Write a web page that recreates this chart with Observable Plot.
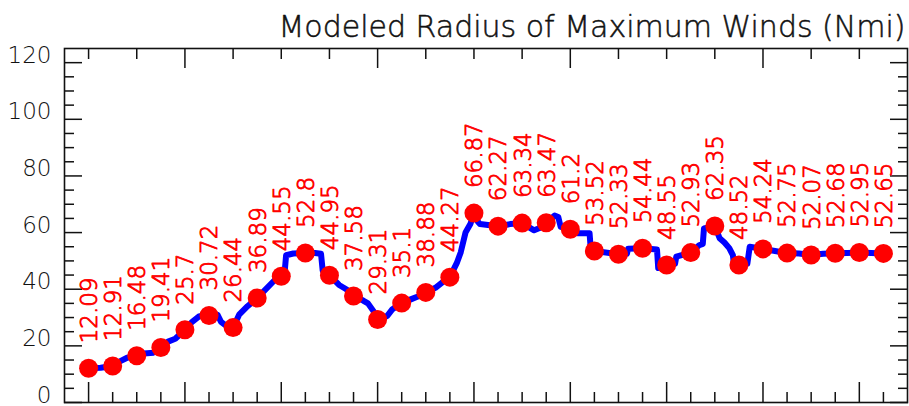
<!DOCTYPE html>
<html>
<head>
<meta charset="utf-8">
<script src="https://cdn.jsdelivr.net/npm/d3@7"></script>
<script src="https://cdn.jsdelivr.net/npm/@observablehq/plot@0.6"></script>
<style>
  html, body { margin: 0; padding: 0; background: #fff; }
  #chart svg { display: block; }
</style>
</head>
<body>
<div id="chart"></div>
<script>
// Values at each labelled time step (index 0..33)
const pointValues = [12.09, 12.91, 16.48, 19.41, 25.7, 30.72, 26.44, 36.89, 44.55, 52.8,
  44.95, 37.58, 29.31, 35.1, 38.88, 44.27, 66.87, 62.27, 63.34, 63.47,
  61.2, 53.52, 52.33, 54.44, 48.55, 52.93, 62.35, 48.52, 54.24, 52.75,
  52.07, 52.68, 52.95, 52.65];

// Blue modeled curve (step index, value)
const lineT = [0, 0.5, 1, 1.3, 1.6, 2, 2.3, 2.7, 3, 3.3, 3.6, 4, 4.3, 4.6, 5, 5.35, 5.5, 5.65, 6,
  6.25, 6.6, 7, 7.3, 7.7, 8, 8.15, 8.2, 8.5, 9, 9.4, 9.65, 9.72, 10, 10.4, 10.7, 11, 11.4, 11.6, 11.85, 12,
  12.4, 12.6, 13, 13.4, 13.7, 14, 14.4, 14.7, 15, 15.3, 15.45, 15.65, 15.85, 16, 16.15, 16.25, 17, 17.5, 18,
  18.5, 18.7, 19, 19.35, 19.5, 19.6, 20, 20.3, 20.8, 20.85, 21, 22, 22.35, 22.4, 23, 23.6, 23.65, 24,
  24.35, 24.4, 25, 25.35, 25.5, 25.55, 26, 26.2, 26.4, 26.6, 26.75, 26.8, 27, 27.35, 27.45, 28,
  28.5, 29, 29.5, 30, 30.5, 31, 31.5, 32, 32.5, 33];
const lineV = [12.09, 12.3, 12.91, 14.5, 15.8, 16.48, 17.3, 17.6, 19.41, 21.5, 22.5, 25.7, 28.5, 30.5, 30.72, 31, 28.5, 27.5, 26.44,
  31, 34, 36.89, 39.5, 43, 44.55, 47, 52, 52.6, 52.8, 52.8, 52.5, 46.5, 44.95, 41.5, 40, 37.58, 36, 35, 32, 29.31,
  30.6, 32.8, 35.1, 36.5, 37.5, 38.88, 40.5, 42.5, 44.27, 49.5, 53, 60, 63, 66.87, 64, 63, 62.27, 63, 63.34,
  60.8, 61.5, 63.47, 66, 65.5, 62, 61.2, 59.8, 59.8, 54, 53.52, 52.33, 52.5, 54.3, 54.44, 54, 47.5, 48.55,
  49, 51.5, 52.93, 55.5, 56, 61.5, 62.35, 58, 56.5, 54.5, 52, 48.5, 48.52, 49, 55, 54.24,
  53.5, 52.75, 52.6, 52.07, 52.5, 52.68, 52.8, 52.95, 52.8, 52.65];

// Axis ticks
const yMajor = [0, 20, 40, 60, 80, 100, 120];
const yMinor = [5, 10, 15, 25, 30, 35, 45, 50, 55, 65, 70, 75, 85, 90, 95, 105, 110, 115];
const xBottomMinor = [1, 2, 3, 5, 6, 7, 9, 10, 11, 13, 14, 15, 17, 18, 19, 21, 22, 23, 25, 26, 27, 29, 30, 31, 33];
const xBottomMajor = [0, 4, 8, 12, 16, 20, 24, 28, 32];
const xTopMinor = [0, 2, 6, 8, 10, 14, 16, 18, 22, 24, 26, 30, 32];
const xTopMajor = [4, 12, 20, 28];

const title = "Modeled Radius of Maximum Winds (Nmi)";

const points = pointValues.map((v, i) => ({t: i, v}));
const line = lineT.map((t, i) => ({t, v: lineV[i]}));

const font = "'DejaVu Sans', 'Liberation Sans', sans-serif";
const ink = "#111111";
const blank = () => "";
const tickOpts = {tickFormat: blank, label: null, stroke: ink, strokeWidth: 1.5};

const chart = Plot.plot({
  width: 909,
  height: 406,
  marginLeft: 64,
  marginRight: 2,
  marginTop: 48,
  marginBottom: 4,
  x: {domain: [-1, 34]},
  y: {domain: [0, 125]},
  style: {fontFamily: font, background: "#fff", overflow: "visible"},
  marks: [
    // y labels
    Plot.axisY(yMajor, {anchor: "left", tickSize: 0, tickPadding: 13, lineAnchor: "bottom", dy: 0, label: null,
      fontSize: 23, fontWeight: 200, fill: ink, stroke: ink, strokeWidth: 0.9}),
    // y ticks left & right (inward)
    Plot.axisY(yMajor, {anchor: "left", tickSize: -18, ...tickOpts}),
    Plot.axisY(yMinor, {anchor: "left", tickSize: -10, ...tickOpts}),
    Plot.axisY(yMajor, {anchor: "right", tickSize: -18, ...tickOpts}),
    Plot.axisY(yMinor, {anchor: "right", tickSize: -10, ...tickOpts}),
    // x ticks bottom & top (inward)
    Plot.axisX(xBottomMajor, {anchor: "bottom", tickSize: -20, ...tickOpts}),
    Plot.axisX(xBottomMinor, {anchor: "bottom", tickSize: -10, ...tickOpts}),
    Plot.axisX(xTopMajor, {anchor: "top", tickSize: -19, ...tickOpts}),
    Plot.axisX(xTopMinor, {anchor: "top", tickSize: -10, ...tickOpts}),
    Plot.frame({stroke: ink, strokeWidth: 1.6}),
    // blue modeled line
    Plot.line(line, {x: "t", y: "v", stroke: "#0000ff", strokeWidth: 6, strokeLinejoin: "round", strokeLinecap: "round"}),
    // red points
    Plot.dot(points, {x: "t", y: "v", r: 9.5, fill: "#ff0000", stroke: "none"}),
    // value labels
    Plot.text(points, {x: "t", y: "v", text: d => String(d.v), rotate: -90, textAnchor: "start", lineAnchor: "middle",
      dy: -25, dx: 1, fontSize: 23, fontWeight: 200, fill: "#ff0000", stroke: "#ff0000", strokeWidth: 0.9}),
    // title
    Plot.text([title], {frameAnchor: "top-right", text: d => d, textAnchor: "end", lineAnchor: "bottom",
      dy: -12, dx: -2, fontSize: 30, fontWeight: 200, fill: ink, stroke: ink, strokeWidth: 0.5})
  ]
});
document.getElementById("chart").appendChild(chart);
</script>
</body>
</html>
